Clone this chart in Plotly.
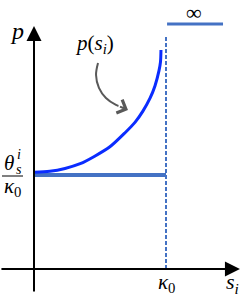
import plotly.graph_objects as go

# ---- data (s in units of kappa0, p in units of theta/kappa0) ----
s_curve = [0.0, 0.12, 0.235, 0.35, 0.46, 0.575, 0.69, 0.765, 0.825, 0.88, 0.917, 0.947, 0.958, 0.962]
p_curve = [1.03, 1.04, 1.07, 1.12, 1.20, 1.30, 1.45, 1.56, 1.68, 1.82, 1.95, 2.11, 2.20, 2.33]

kappa0 = 1.0
p_floor = 1.0            # theta_s^i / kappa0 level
floor_s = [0.0, kappa0]
floor_p = [p_floor, p_floor]
inf_s = [1.008, 1.432]   # "infinity" segment
inf_p = [2.606, 2.606]
dash_s = [kappa0, kappa0]
dash_p = [0.0, 2.49]

# callout arrow path
call_s = [0.485, 0.470, 0.492, 0.545, 0.621, 0.640]
call_p = [2.191, 2.064, 1.926, 1.819, 1.745, 1.735]
call_tip = (0.712, 1.691)

# axes extents (tail, tip)
x_axis = (-0.258, 1.56)
y_axis = (-0.255, 2.585)

X0, PXS = 34, 132.0
Y0, PYS = 269, 94.0
def px(x, y):
    return (x - X0) / PXS, (Y0 - y) / PYS

BLUE = "#0a2cff"
STEEL = "#4472c4"
GREY = "#595959"
FONT = "Liberation Serif, DejaVu Serif, serif"

fig = go.Figure()
fig.add_trace(go.Scatter(x=floor_s, y=floor_p, mode="lines",
                         line=dict(color=STEEL, width=4), hoverinfo="skip"))
fig.add_trace(go.Scatter(x=dash_s, y=dash_p, mode="lines",
                         line=dict(color=STEEL, width=2, dash="4px,2px"), hoverinfo="skip"))
fig.add_trace(go.Scatter(x=inf_s, y=inf_p, mode="lines",
                         line=dict(color=STEEL, width=3), hoverinfo="skip"))
fig.add_trace(go.Scatter(x=s_curve, y=p_curve, mode="lines",
                         line=dict(color=BLUE, width=3, shape="spline", smoothing=0.8),
                         hoverinfo="skip"))
fig.add_trace(go.Scatter(x=call_s, y=call_p, mode="lines",
                         line=dict(color=GREY, width=2, shape="spline"),
                         hoverinfo="skip"))

ann = []
# axes arrows
ann.append(dict(x=x_axis[1], y=0, ax=x_axis[0], ay=0, xref="x", yref="y",
                axref="x", ayref="y", showarrow=True, arrowhead=2, standoff=0,
                arrowwidth=2, arrowsize=1.5, arrowcolor="black", text=""))
ann.append(dict(x=0, y=y_axis[1], ax=0, ay=y_axis[0], xref="x", yref="y",
                axref="x", ayref="y", showarrow=True, arrowhead=2, standoff=0,
                arrowwidth=2, arrowsize=1.5, arrowcolor="black", text=""))
# callout arrow head
ann.append(dict(x=call_tip[0], y=call_tip[1], ax=call_s[-1], ay=call_p[-1],
                xref="x", yref="y", axref="x", ayref="y", showarrow=True,
                arrowhead=4, arrowwidth=2, arrowsize=1.4, arrowcolor=GREY, text=""))

def label(x, y, text, size=20):
    dx, dy = px(x, y)
    ann.append(dict(x=dx, y=dy, xref="x", yref="y", text=text, showarrow=False,
                    font=dict(family=FONT, size=size, color="black"),
                    xanchor="center", yanchor="middle"))

label(17, 31, "<i>p</i>", 24)
label(94, 44, "<i>p</i>(<i>s<sub>i</sub></i>)", 21)
label(194, 12, "∞", 22)
label(166, 283, "<i>κ</i><sub>0</sub>", 21)
label(232, 283, "<i>s<sub>i</sub></i>", 22)
label(9, 163, "<i>θ</i>", 21)
label(19, 154, "<i>i</i>", 14)
label(19, 169, "<i>s</i>", 14)
label(12, 187, "<i>κ</i><sub>0</sub>", 21)

fb0 = px(2, 176)
fb1 = px(23, 176)
fig.add_shape(type="line", x0=fb0[0], x1=fb1[0], y0=fb0[1], y1=fb1[1],
              xref="x", yref="y", line=dict(color="black", width=1))

fig.update_layout(
    width=249, height=296, margin=dict(l=0, r=0, t=0, b=0),
    paper_bgcolor="white", plot_bgcolor="white", showlegend=False,
    annotations=ann,
    xaxis=dict(range=[-34 / 132, 215 / 132], visible=False, fixedrange=True),
    yaxis=dict(range=[(269 - 296) / 94, 269 / 94], visible=False, fixedrange=True),
)
fig.write_html("out.html", config={"displayModeBar": False},
               post_script="document.body.style.margin='0';document.body.style.padding='0';"
                           "document.body.style.overflow='hidden';")
